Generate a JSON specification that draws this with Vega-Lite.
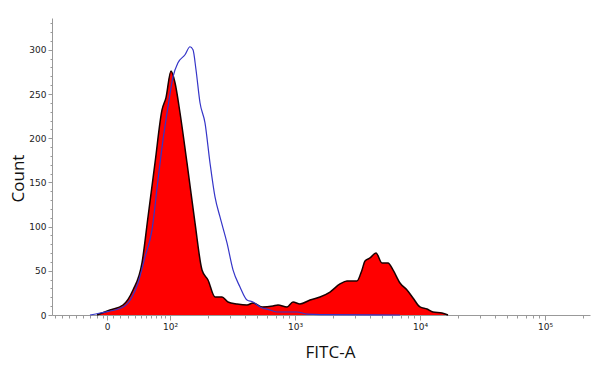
{
  "$schema": "https://vega.github.io/schema/vega-lite/v6.json",
  "width": 538,
  "height": 297,
  "autosize": "none",
  "padding": {"left": 52, "top": 18, "right": 10, "bottom": 52},
  "background": "white",
  "config": {"view": {"stroke": null}},
  "datasets": {
    "stained": [
      {"pos": 1.416, "count": 0},
      {"pos": 1.52, "count": 5.7},
      {"pos": 1.624, "count": 11.3},
      {"pos": 1.704, "count": 28.3},
      {"pos": 1.776, "count": 58.9},
      {"pos": 1.824, "count": 110.9},
      {"pos": 1.88, "count": 172},
      {"pos": 1.936, "count": 232},
      {"pos": 1.968, "count": 246},
      {"pos": 2.008, "count": 276},
      {"pos": 2.04, "count": 262.7},
      {"pos": 2.08, "count": 228.8},
      {"pos": 2.136, "count": 172},
      {"pos": 2.2, "count": 104.2},
      {"pos": 2.256, "count": 51},
      {"pos": 2.304, "count": 39.6},
      {"pos": 2.36, "count": 20.4},
      {"pos": 2.416, "count": 20.4},
      {"pos": 2.464, "count": 14.7},
      {"pos": 2.536, "count": 12.5},
      {"pos": 2.616, "count": 11.3},
      {"pos": 2.664, "count": 13.6},
      {"pos": 2.736, "count": 9.1},
      {"pos": 2.824, "count": 10.2},
      {"pos": 2.864, "count": 11.3},
      {"pos": 2.936, "count": 9.1},
      {"pos": 2.984, "count": 14.7},
      {"pos": 3.04, "count": 12.5},
      {"pos": 3.12, "count": 17},
      {"pos": 3.2, "count": 20.4},
      {"pos": 3.28, "count": 26},
      {"pos": 3.36, "count": 35.1},
      {"pos": 3.416, "count": 38.5},
      {"pos": 3.496, "count": 38.5},
      {"pos": 3.536, "count": 51},
      {"pos": 3.56, "count": 61.2},
      {"pos": 3.6, "count": 64.5},
      {"pos": 3.648, "count": 70.2},
      {"pos": 3.696, "count": 58.9},
      {"pos": 3.744, "count": 58.9},
      {"pos": 3.784, "count": 51},
      {"pos": 3.84, "count": 36.2},
      {"pos": 3.896, "count": 28.3},
      {"pos": 3.944, "count": 19.3},
      {"pos": 4.0, "count": 9.1},
      {"pos": 4.056, "count": 6.8},
      {"pos": 4.104, "count": 3.4},
      {"pos": 4.176, "count": 2.3},
      {"pos": 4.224, "count": 0}
    ],
    "control": [
      {"pos": 1.36, "count": 0},
      {"pos": 1.44, "count": 2.3},
      {"pos": 1.624, "count": 9.1},
      {"pos": 1.696, "count": 20.4},
      {"pos": 1.744, "count": 36.2},
      {"pos": 1.8, "count": 65.7},
      {"pos": 1.856, "count": 96.3},
      {"pos": 1.904, "count": 152.9},
      {"pos": 1.944, "count": 198.2},
      {"pos": 1.984, "count": 235.6},
      {"pos": 2.024, "count": 269.5},
      {"pos": 2.064, "count": 285.4},
      {"pos": 2.12, "count": 294.4},
      {"pos": 2.16, "count": 303.5},
      {"pos": 2.184, "count": 300},
      {"pos": 2.208, "count": 277.5},
      {"pos": 2.24, "count": 240.1},
      {"pos": 2.28, "count": 217.4},
      {"pos": 2.32, "count": 172},
      {"pos": 2.36, "count": 133.6},
      {"pos": 2.4, "count": 110.9},
      {"pos": 2.456, "count": 81.5},
      {"pos": 2.504, "count": 51},
      {"pos": 2.56, "count": 31.7},
      {"pos": 2.616, "count": 17},
      {"pos": 2.664, "count": 14.7},
      {"pos": 2.72, "count": 9.1},
      {"pos": 2.8, "count": 5.7},
      {"pos": 2.856, "count": 3.4},
      {"pos": 3.016, "count": 3.4},
      {"pos": 3.096, "count": 1.1},
      {"pos": 3.2, "count": 0.5},
      {"pos": 3.84, "count": 0}
    ]
  },
  "encoding": {
    "x": {
      "field": "pos",
      "type": "quantitative",
      "scale": {"domain": [1.056, 5.36], "nice": false, "zero": false},
      "axis": {
        "title": "FITC-A",
        "titleFont": "Open Sans",
        "titleFontSize": 17,
        "titleFontWeight": "normal",
        "titleColor": "#111",
        "titleX": 278,
        "titleY": 37,
        "titleAlign": "center",
        "titleBaseline": "middle",
        "domainColor": "#999",
        "tickColor": "#999",
        "tickSize": {"condition": {"test": "indexof([1.496,2,3,4,5], datum.value) >= 0", "value": 5}, "value": 3},
        "labelFont": "DejaVu Sans",
        "labelFontSize": 9,
        "labelColor": "#222",
        "labelPadding": 2,
        "labelFlush": false,
        "labelOverlap": false,
        "grid": false,
        "values": [1.08, 1.136, 1.192, 1.248, 1.304, 1.36, 1.416, 1.464, 1.496,
                   1.544, 1.6, 1.664, 1.72, 1.768, 1.808, 1.848, 1.888, 1.928, 1.96,
                   2, 2.30103, 2.47712, 2.60206, 2.69897, 2.77815, 2.8451, 2.90309, 2.95424,
                   3, 3.30103, 3.47712, 3.60206, 3.69897, 3.77815, 3.8451, 3.90309, 3.95424,
                   4, 4.30103, 4.47712, 4.60206, 4.69897, 4.77815, 4.8451, 4.90309, 4.95424,
                   5, 5.30103],
        "labelExpr": "datum.value == 1.496 ? '0' : datum.value == 2 ? '10²' : datum.value == 3 ? '10³' : datum.value == 4 ? '10⁴' : datum.value == 5 ? '10⁵' : ''"
      }
    },
    "y": {
      "field": "count",
      "type": "quantitative",
      "scale": {"domain": [0, 336], "nice": false},
      "axis": {
        "title": "Count",
        "titleFont": "Open Sans",
        "titleFontSize": 17,
        "titleFontWeight": "normal",
        "titleColor": "#111",
        "titleX": -34,
        "titleY": 160,
        "titleAlign": "center",
        "titleBaseline": "middle",
        "domainColor": "#999",
        "tickColor": "#999",
        "tickSize": {"condition": {"test": "datum.value % 50 == 0", "value": 4}, "value": 2},
        "labelFont": "DejaVu Sans",
        "labelFontSize": 9,
        "labelColor": "#222",
        "labelPadding": 2,
        "labelFlush": false,
        "labelOverlap": false,
        "grid": false,
        "values": [0,10,20,30,40,50,60,70,80,90,100,110,120,130,140,150,160,170,180,190,200,210,220,230,240,250,260,270,280,290,300,310,320,330],
        "labelExpr": "datum.value % 50 == 0 ? datum.label : ''"
      }
    }
  },
  "layer": [
    {
      "data": {"name": "stained"},
      "mark": {"type": "area", "color": "#ff0000", "interpolate": "monotone", "opacity": 1}
    },
    {
      "data": {"name": "stained"},
      "mark": {"type": "line", "color": "#1a0000", "strokeWidth": 1.5, "interpolate": "monotone"}
    },
    {
      "data": {"name": "control"},
      "mark": {"type": "line", "color": "#3535c8", "strokeWidth": 1.2, "interpolate": "monotone"}
    }
  ]
}
